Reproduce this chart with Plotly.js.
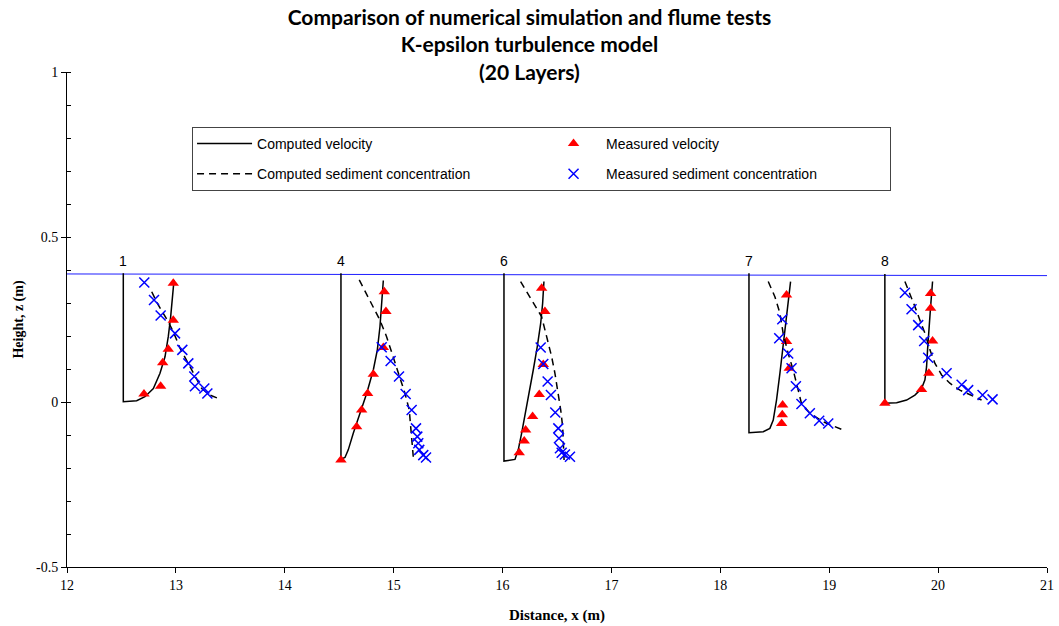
<!DOCTYPE html>
<html>
<head>
<meta charset="utf-8">
<script src="https://cdn.plot.ly/plotly-3.0.1.min.js"></script>
<style>html,body{margin:0;padding:0;background:#fff;}#chart{width:1059px;height:626px;}</style>
</head>
<body>
<div id="chart"></div>
<script>
// Profile labels and their zero-velocity base positions
const profileLabels = ['1', '4', '6', '7', '8'];
const baseX = [12.517, 14.516, 16.013, 18.263, 19.511];
const bedZ = [0.001, -0.173, -0.179, -0.093, -0.004];
const topZ = [0.390, 0.390, 0.390, 0.390, 0.388];
const labelZ = 0.427;

// Water surface
const surfaceX = [12, 21];
const surfaceZ = [0.388, 0.383];

// Computed velocity curves (after leaving the bed)
const velX1 = [12.640, 12.716, 12.793, 12.854, 12.900, 12.930, 12.952, 12.971, 12.983];
const velZ1 = [0.004, 0.016, 0.041, 0.087, 0.137, 0.198, 0.258, 0.319, 0.370];
const velX4 = [14.553, 14.583, 14.629, 14.691, 14.752, 14.813, 14.850, 14.874, 14.890, 14.899, 14.905];
const velZ4 = [-0.168, -0.145, -0.095, -0.034, 0.026, 0.097, 0.158, 0.228, 0.289, 0.339, 0.368];
const velX6 = [16.114, 16.144, 16.175, 16.205, 16.245, 16.282, 16.319, 16.350, 16.368, 16.380];
const velZ6 = [-0.174, -0.145, -0.095, -0.044, 0.026, 0.097, 0.168, 0.238, 0.299, 0.365];
const velX7 = [18.394, 18.455, 18.486, 18.516, 18.547, 18.577, 18.608, 18.633, 18.645];
const velZ7 = [-0.090, -0.080, -0.055, 0.006, 0.087, 0.178, 0.258, 0.329, 0.365];
const velX8 = [19.619, 19.711, 19.787, 19.848, 19.879, 19.894, 19.903, 19.915, 19.931, 19.943, 19.949];
const velZ8 = [-0.002, 0.006, 0.021, 0.041, 0.067, 0.107, 0.158, 0.228, 0.289, 0.339, 0.365];

// Measured velocity
const mvX1 = [12.976, 12.976, 12.930, 12.879, 12.860, 12.707];
const mvZ1 = [0.360, 0.248, 0.160, 0.119, 0.048, 0.024];
const mvX4 = [14.914, 14.929, 14.905, 14.813, 14.761, 14.706, 14.660, 14.516];
const mvZ4 = [0.334, 0.274, 0.165, 0.084, 0.026, -0.024, -0.075, -0.176];
const mvX6 = [16.359, 16.389, 16.374, 16.337, 16.276, 16.212, 16.199, 16.153];
const mvZ6 = [0.345, 0.274, 0.114, 0.023, -0.044, -0.085, -0.118, -0.154];
const mvX7 = [18.608, 18.608, 18.633, 18.572, 18.569, 18.563];
const mvZ7 = [0.324, 0.183, 0.102, -0.009, -0.039, -0.065];
const mvX8 = [19.931, 19.931, 19.949, 19.915, 19.848, 19.511];
const mvZ8 = [0.329, 0.284, 0.185, 0.087, 0.038, -0.004];

// Computed sediment concentration
const csX1 = [12.778, 12.838, 12.930, 12.976, 13.038, 13.114, 13.175, 13.237, 13.313, 13.389];
const csZ1 = [0.334, 0.294, 0.243, 0.213, 0.163, 0.117, 0.077, 0.041, 0.021, 0.011];
const csX4 = [14.684, 14.782, 14.874, 14.935, 14.996, 15.058, 15.104, 15.143, 15.156, 15.174, 15.180];
const csZ4 = [0.370, 0.309, 0.248, 0.198, 0.137, 0.077, 0.026, -0.024, -0.075, -0.130, -0.166];
const csX6 = [16.166, 16.282, 16.359, 16.405, 16.451, 16.481, 16.512, 16.534, 16.552, 16.558, 16.565];
const csZ6 = [0.365, 0.299, 0.258, 0.198, 0.137, 0.087, 0.026, -0.024, -0.075, -0.125, -0.176];
const csX7 = [18.440, 18.501, 18.547, 18.577, 18.623, 18.669, 18.715, 18.745, 18.822, 18.944, 19.113];
const csZ7 = [0.365, 0.319, 0.269, 0.208, 0.147, 0.097, 0.036, -0.004, -0.034, -0.060, -0.083];
const csX8 = [19.695, 19.741, 19.787, 19.833, 19.879, 19.925, 19.971, 20.032, 20.108, 20.200, 20.292, 20.399];
const csZ8 = [0.365, 0.329, 0.289, 0.248, 0.208, 0.158, 0.117, 0.082, 0.057, 0.036, 0.021, 0.006];

// Measured sediment concentration
const msX1 = [12.710, 12.799, 12.860, 12.992, 13.059, 13.114, 13.169, 13.175, 13.261, 13.289];
const msZ1 = [0.362, 0.309, 0.262, 0.208, 0.158, 0.117, 0.077, 0.048, 0.041, 0.026];
const msX4 = [14.890, 14.972, 15.049, 15.110, 15.165, 15.205, 15.217, 15.226, 15.235, 15.272, 15.297];
const msZ4 = [0.166, 0.124, 0.077, 0.024, -0.024, -0.080, -0.105, -0.125, -0.145, -0.161, -0.168];
const msX6 = [16.350, 16.374, 16.414, 16.444, 16.484, 16.512, 16.518, 16.527, 16.543, 16.573, 16.619];
const msZ6 = [0.165, 0.115, 0.062, 0.021, -0.032, -0.080, -0.110, -0.140, -0.154, -0.159, -0.166];
const msX7 = [18.569, 18.541, 18.623, 18.654, 18.694, 18.745, 18.822, 18.908, 18.991];
const msZ7 = [0.251, 0.193, 0.147, 0.102, 0.048, -0.006, -0.034, -0.057, -0.065];
const msX8 = [19.695, 19.756, 19.817, 19.872, 19.909, 20.078, 20.216, 20.276, 20.408, 20.500];
const msZ8 = [0.331, 0.281, 0.233, 0.185, 0.134, 0.087, 0.052, 0.036, 0.021, 0.008];

const xTicks = [12, 13, 14, 15, 16, 17, 18, 19, 20, 21];
const yTicks = [-0.5, 0, 0.5, 1];
const yTickText = ['-0.5', '0', '0.5', '1'];

// ---- build traces ----
function joinSegments(xs, zs) {
  const X = [], Z = [];
  xs.forEach((x, i) => {
    if (i > 0) { X.push(null); Z.push(null); }
    X.push(...x); Z.push(...zs[i]);
  });
  return {X, Z};
}

const velCurvesX = [velX1, velX4, velX6, velX7, velX8];
const velCurvesZ = [velZ1, velZ4, velZ6, velZ7, velZ8];
// each velocity profile: vertical zero line from surface to bed, then the curve
const vel = joinSegments(
  velCurvesX.map((c, i) => [baseX[i], baseX[i]].concat(c)),
  velCurvesZ.map((c, i) => [topZ[i], bedZ[i]].concat(c))
);
const mv = joinSegments([mvX1, mvX4, mvX6, mvX7, mvX8], [mvZ1, mvZ4, mvZ6, mvZ7, mvZ8]);
const cs = joinSegments([csX1, csX4, csX6, csX7, csX8], [csZ1, csZ4, csZ6, csZ7, csZ8]);
const ms = joinSegments([msX1, msX4, msX6, msX7, msX8], [msZ1, msZ4, msZ6, msZ7, msZ8]);

const traces = [
  {x: surfaceX, y: surfaceZ, mode: 'lines', line: {color: 'rgb(30,30,255)', width: 1},
   showlegend: false, hoverinfo: 'skip', name: 'Water surface'},
  {x: vel.X, y: vel.Z, mode: 'lines', name: 'Computed velocity', legendgroup: 'g1',
   line: {color: '#000', width: 1.5}, connectgaps: false},
  {x: mv.X, y: mv.Z, mode: 'markers', name: 'Measured velocity', legendgroup: 'g2',
   marker: {symbol: 'triangle-up', size: 10, color: '#ff0000'}},
  {x: cs.X, y: cs.Z, mode: 'lines', name: 'Computed sediment concentration', legendgroup: 'g3',
   line: {color: '#000', width: 1.5, dash: '7px,5px'}, connectgaps: false},
  {x: ms.X, y: ms.Z, mode: 'markers', name: 'Measured sediment concentration', legendgroup: 'g4',
   marker: {symbol: 'x-thin-open', size: 10, color: '#0000ff', line: {color: '#0000ff', width: 1.5}}}
];

const annotations = profileLabels.map((t, i) => ({
  x: baseX[i], y: labelZ, xref: 'x', yref: 'y', text: t, showarrow: false,
  font: {family: 'Liberation Sans, Arial, sans-serif', size: 14, color: '#000'}
}));

const serif = 'Liberation Serif, Times New Roman, serif';
const layout = {
  width: 1059, height: 626,
  margin: {l: 67, r: 12, t: 72, b: 59},
  paper_bgcolor: '#fff', plot_bgcolor: '#fff',
  title: {
    text: '<b>Comparison of numerical simulation and flume tests<br>K-epsilon turbulence model<br>(20 Layers)</b>',
    font: {family: 'Lato, Open Sans, sans-serif', size: 21, color: '#000'},
    x: 0.5, xref: 'container', xanchor: 'center',
    y: 0.96, yref: 'container', yanchor: 'top'
  },
  xaxis: {
    range: [12, 21], tickvals: xTicks, ticks: 'outside', ticklen: 5, tickcolor: '#000',
    showline: true, linecolor: '#000', linewidth: 1, showgrid: false, zeroline: false,
    tickfont: {family: serif, size: 14, color: '#000'},
    title: {text: '<b>Distance, x (m)</b>', font: {family: serif, size: 15, color: '#000'}, standoff: 17}
  },
  yaxis: {
    range: [-0.5, 1], tickvals: yTicks, ticktext: yTickText, ticks: 'outside', ticklen: 5, tickcolor: '#000',
    showline: true, linecolor: '#000', linewidth: 1, showgrid: false, zeroline: false,
    minor: {dtick: 0.1, ticks: 'inside', ticklen: 4, tickcolor: '#000', showgrid: false},
    tickfont: {family: serif, size: 14, color: '#000'},
    title: {text: '<b>Height, z (m)</b>', font: {family: serif, size: 14, color: '#000'}, standoff: 9}
  },
  legend: {
    orientation: 'h', x: 0.1276, y: 0.889, xanchor: 'left', yanchor: 'top',
    bgcolor: '#fff', bordercolor: '#444', borderwidth: 1,
    entrywidth: 279, itemwidth: 55, tracegroupgap: 9,
    font: {family: 'Liberation Sans, Arial, sans-serif', size: 14, color: '#000'}
  },
  annotations: annotations,
  showlegend: true
};

Plotly.newPlot('chart', traces, layout, {staticPlot: true, displayModeBar: false});
</script>
</body>
</html>
